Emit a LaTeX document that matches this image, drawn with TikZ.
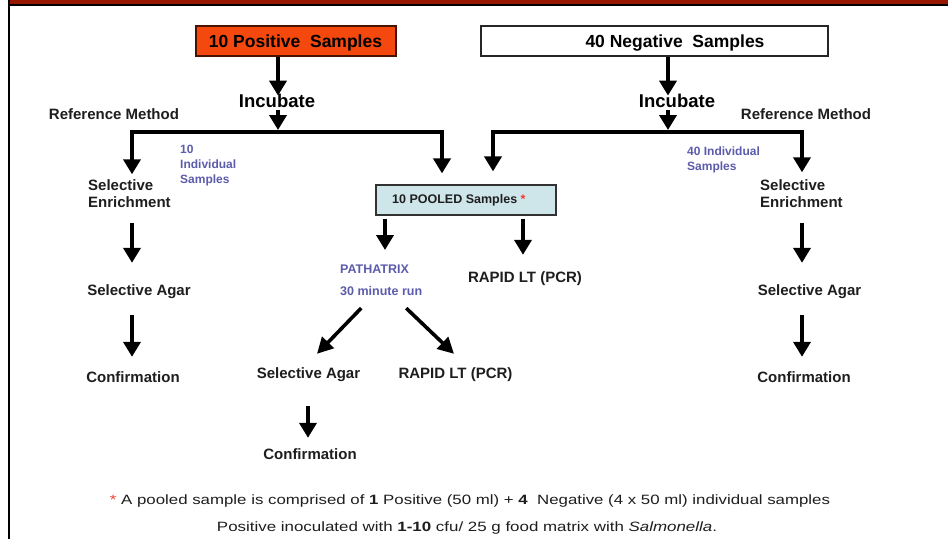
\documentclass[tikz,border=0pt]{standalone}
\usepackage{graphicx}
\usepackage{fontspec}
\setmainfont{Liberation Sans}
\usetikzlibrary{arrows.meta}
\definecolor{bandred}{RGB}{150,22,0}
\definecolor{boxred}{RGB}{245,72,14}
\definecolor{boxredline}{RGB}{70,20,0}
\definecolor{poolfill}{RGB}{206,230,234}
\definecolor{poolline}{RGB}{50,50,50}
\definecolor{bluec}{RGB}{92,92,172}
\definecolor{labelc}{RGB}{30,30,30}
\definecolor{starred}{RGB}{240,60,50}
\begin{document}
\begin{tikzpicture}[x=1pt,y=-1pt,
  lbl/.style={font=\fontsize{15}{17}\selectfont\bfseries, text=labelc, inner sep=0pt, anchor=base, text height=11pt, text depth=3pt},
  two/.style={font=\fontsize{15}{17}\selectfont\bfseries, text=labelc, inner sep=0pt, anchor=north west, align=left},
  inc/.style={font=\fontsize{18.5}{20}\selectfont\bfseries, text=black, inner sep=0pt, anchor=base, text height=13.2pt, text depth=0pt},
  boxtxt/.style={font=\fontsize{17.5}{20}\selectfont\bfseries, text=black, inner sep=0pt, anchor=base},
  blu/.style={font=\fontsize{12}{15}\selectfont\bfseries, text=bluec, inner sep=0pt, anchor=north west, align=left},
  pathtxt/.style={font=\fontsize{12.5}{22}\selectfont\bfseries, text=bluec, inner sep=0pt, anchor=north west, align=left},
  foot/.style={font=\fontsize{13.5}{15}\selectfont, text=labelc, inner sep=0pt, anchor=base},
  arr/.style={draw=black, line width=4pt, line join=miter, -{Triangle[width=17pt,length=15pt]}},
  arrd/.style={draw=black, line width=3.6pt, -{Triangle[width=16pt,length=16pt]}}
]
\useasboundingbox (0,0) rectangle (948,539);
\fill[white] (0,0) rectangle (948,539);
% frame band
\fill[bandred] (10,0) rectangle (948,4.3);
\fill[black] (8,4.3) rectangle (948,6.3);
\fill[black] (8,0) rectangle (10,539);

% column coordinates
\coordinate (colL) at (132,0);
\coordinate (colR) at (802,0);
\coordinate (colM) at (308,0);
\coordinate (colRt) at (668,0);
\coordinate (colL2) at (442,0);
\coordinate (colR2) at (493,0);
\coordinate (colP1) at (385,0);
\coordinate (colP2) at (523,0);
\coordinate (jL) at (278,132);
\coordinate (jR) at (668,132);

% top boxes
\node[draw=boxredline, line width=1.2pt, fill=boxred, minimum width=200pt, minimum height=30pt, inner sep=0pt] (posbox) at (296,41) {};
\node[boxtxt] (postxt) at (295.5,47) {10 Positive\ \ Samples};
\node[draw=black!85, line width=1.2pt, fill=white, minimum width=347pt, minimum height=30pt, inner sep=0pt] (negbox) at (654.5,41) {};
\node[boxtxt] (negtxt) at (675,47) {40 Negative\ \ Samples};

% incubate
\node[inc] (incL) at (277,107) {Incubate};
\node[inc] (incR) at (677,107) {Incubate};

% reference method
\node[lbl] (refL) at (114,119) {Reference Method};
\node[lbl] (refR) at (806,119) {Reference Method};

% blue notes
\node[blu] (indL) at (180,145.4) {10\\Individual\\Samples};
\node[blu] (indR) at (687,146.4) {40 Individual\\Samples};

% left column
\node[two] (selEnL) at (88,179.3) {Selective\\Enrichment};
\node[lbl] (selAgL) at (139,295) {Selective Agar};
\node[lbl] (confL) at (133,382) {Confirmation};

% right column
\node[two] (selEnR) at (760,179.3) {Selective\\Enrichment};
\node[lbl] (selAgR) at (809.5,295) {Selective Agar};
\node[lbl] (confR) at (804,382) {Confirmation};

% pooled box
\node[draw=poolline, line width=1.2pt, fill=poolfill, minimum width=180pt, minimum height=30pt, inner sep=0pt] (pool) at (466,200) {};
\node[font=\fontsize{12.5}{15}\selectfont\bfseries, text=labelc, inner sep=0pt, anchor=base west] (pooltxt) at (392,203) {10 POOLED Samples \textcolor{starred}{*}};

% middle
\node[pathtxt] (path) at (340,265) {PATHATRIX\\30 minute run};
\node[lbl] (rapidT) at (525,282) {RAPID LT (PCR)};
\node[lbl] (selAgM) at (308.5,378) {Selective Agar};
\node[lbl] (rapidM) at (455.5,378) {RAPID LT (PCR)};
\node[lbl] (confM) at (310,459) {Confirmation};

% footer
\node[foot] (note1) at (470,504) {\resizebox{720pt}{\height}{\textcolor{starred}{*} A pooled sample is comprised of \textbf{1} Positive (50 ml) + \textbf{4}\ \ Negative (4 x 50 ml) individual samples}};
\node[foot] (note2) at (467,531) {\resizebox{500pt}{\height}{Positive inoculated with \textbf{1-10} cfu/ 25 g food matrix with \textit{Salmonella}.}};

% arrows top
\draw[arr] (posbox.south -| jL) -- ([yshift=-2pt]incL.north -| jL);
\draw[arr] (negbox.south -| colRt) -- ([yshift=-2pt]incR.north -| colRt);
\draw[arr] ([yshift=-3pt]incL.south -| jL) -- ([yshift=2pt]jL);
\draw[arr] ([yshift=-3pt]incR.south -| jR) -- ([yshift=2pt]jR);

% branches
\draw[arr] (jL) -| ([yshift=5pt]selEnL.north -| colL);
\draw[arr] (jL) -| ([yshift=11pt]pool.north -| colL2);
\draw[arr] (jR) -| ([yshift=13pt]pool.north -| colR2);
\draw[arr] (jR) -| ([yshift=7pt]selEnR.north -| colR);

% left column arrows
\draw[arr, shorten <=15pt, shorten >=21pt] (selEnL.south -| colL) -- (selAgL.north -| colL);
\draw[arr, shorten <=17pt, shorten >=14pt] (selAgL.south -| colL) -- (confL.north -| colL);
% right column arrows
\draw[arr, shorten <=15pt, shorten >=21pt] (selEnR.south -| colR) -- (selAgR.north -| colR);
\draw[arr, shorten <=17pt, shorten >=14pt] (selAgR.south -| colR) -- (confR.north -| colR);

% pooled arrows
\draw[arr, shorten <=3pt, shorten >=15pt] (pool.south -| colP1) -- (path.north -| colP1);
\draw[arr, shorten <=3pt, shorten >=16pt] (pool.south -| colP2) -- (rapidT.north -| colP2);

% diagonal arrows
\draw[arrd] ([xshift=-20pt,yshift=-12pt]path.south) -- ([xshift=8.5pt,yshift=13pt]selAgM.north);
\draw[arrd] ([xshift=25pt,yshift=-12pt]path.south) -- ([xshift=-1.5pt,yshift=13pt]rapidM.north);

% middle confirmation arrow
\draw[arr, shorten <=25pt, shorten >=10pt] (selAgM.south -| colM) -- (confM.north -| colM);
\end{tikzpicture}
\end{document}
